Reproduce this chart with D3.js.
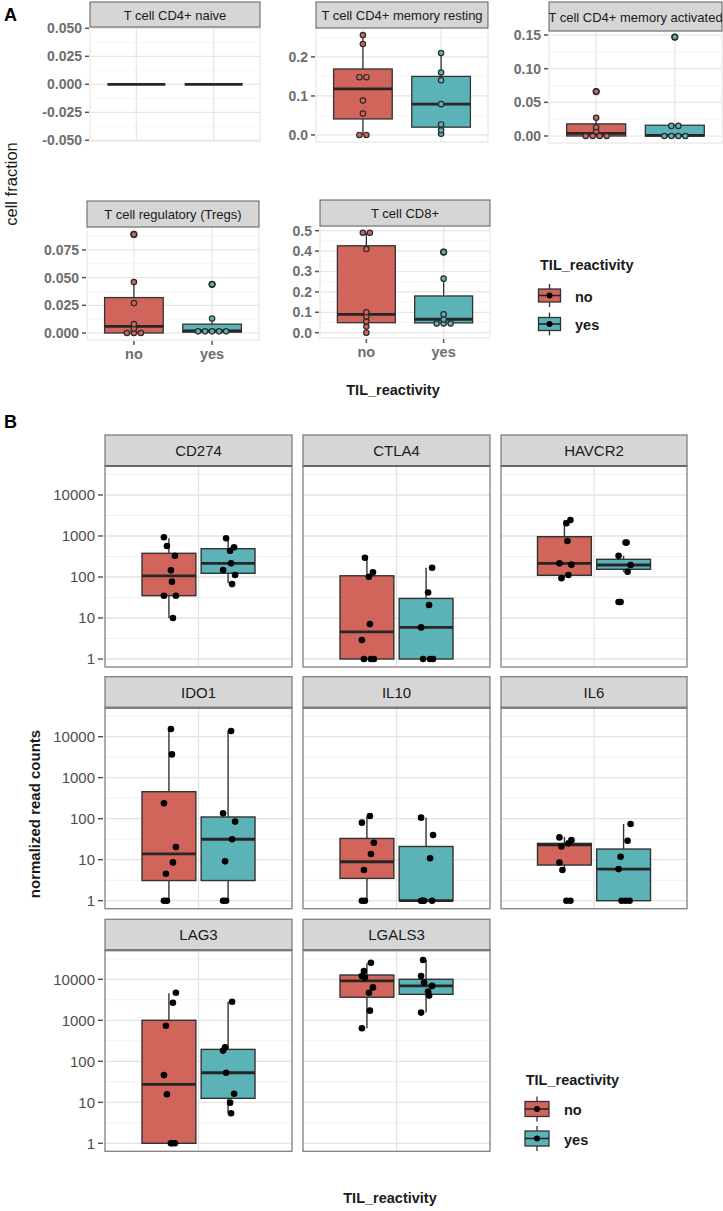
<!DOCTYPE html>
<html><head><meta charset="utf-8">
<script src="https://cdn.jsdelivr.net/npm/d3@7"></script>
<style>body{margin:0;background:#fff;} svg{display:block;}</style>
</head><body><svg id="c" width="723" height="1211"></svg>
<script>
// ---------------- DATA ----------------
const groups = ["no", "yes"];
const groupColors = ["#d2655b", "#5bb3b8"];

// Panel A : cell fractions
const cellTypes = ["T cell CD4+ naive", "T cell CD4+ memory resting", "T cell CD4+ memory activated", "T cell regulatory (Tregs)", "T cell CD8+"];
const cellTicks = [[-0.05, -0.025, 0, 0.025, 0.05], [0, 0.1, 0.2], [0, 0.05, 0.1, 0.15], [0, 0.025, 0.05, 0.075], [0, 0.1, 0.2, 0.3, 0.4, 0.5]];
const cellTickLabels = [["-0.050", "-0.025", "0.000", "0.025", "0.050"], ["0.0", "0.1", "0.2"], ["0.00", "0.05", "0.10", "0.15"], ["0.000", "0.025", "0.050", "0.075"], ["0.0", "0.1", "0.2", "0.3", "0.4", "0.5"]];
// [lower whisker, Q1, median, Q3, upper whisker]
const cellNoStats = [[0, 0, 0, 0, 0], [0, 0.041, 0.118, 0.169, 0.256], [0, 0, 0.004, 0.018, 0.027], [0, 0, 0.006, 0.032, 0.046], [0, 0.049, 0.09, 0.426, 0.49]];
const cellYesStats = [[0, 0, 0, 0, 0], [0.003, 0.02, 0.079, 0.15, 0.21], [0, 0, 0.0008, 0.016, 0.016], [0.0005, 0.0008, 0.002, 0.008, 0.013], [0.04, 0.048, 0.066, 0.18, 0.265]];
const cellNoOutliers = [[], [], [0.066], [0.089], []];
const cellYesOutliers = [[], [], [0.147], [0.044], [0.395]];
const cellNoPoints = [[], [0, 0, 0.055, 0.088, 0.148, 0.148, 0.233, 0.256], [0, 0, 0, 0, 0.007, 0.013, 0.027, 0.066], [0, 0, 0, 0.004, 0.008, 0.027, 0.046, 0.089], [0, 0.03, 0.055, 0.08, 0.1, 0.41, 0.49, 0.49]];
const cellYesPoints = [[], [0.003, 0.012, 0.027, 0.079, 0.14, 0.16, 0.21], [0, 0, 0, 0, 0.015, 0.015, 0.147], [0.0005, 0.001, 0.001, 0.002, 0.003, 0.013, 0.044], [0.04, 0.045, 0.05, 0.065, 0.09, 0.265, 0.395]];

// Panel B : normalized read counts
const genes = ["CD274", "CTLA4", "HAVCR2", "IDO1", "IL10", "IL6", "LAG3", "LGALS3"];
const geneTicks = [1, 10, 100, 1000, 10000];
const geneTickLabels = ["1", "10", "100", "1000", "10000"];
const geneNoStats = [
  [10, 35, 107, 378, 877],
  [1, 1, 4.6, 107, 295],
  [93, 110, 215, 960, 2450],
  [1, 3.1, 13.8, 455, 15100],
  [1, 3.5, 8.9, 33, 112],
  [5.6, 7.4, 23, 25, 36],
  [1, 1, 27.5, 1000, 4560],
  [640, 3650, 9100, 12700, 24500]
];
const geneYesStats = [
  [70, 123, 215, 490, 880],
  [1, 1, 5.9, 30, 168],
  [134, 154, 196, 270, 330],
  [1, 3.1, 31.5, 110, 13700],
  [1, 1, 1, 21, 106],
  [1, 1, 5.9, 18.2, 74],
  [5.4, 12.5, 52.5, 195, 2840],
  [1540, 4300, 6900, 10000, 29500]
];
const geneNoPoints = [
  [930, 570, 330, 145, 77, 35, 35, 10],
  [295, 130, 101, 7.1, 2.9, 1, 1, 1],
  [2450, 2040, 755, 215, 200, 112, 93],
  [15400, 3700, 238, 20.4, 8.6, 4.55, 1, 1],
  [116, 80, 26, 13.8, 5.6, 1, 1],
  [35, 30, 25, 21, 8.5, 5.6, 1, 1],
  [4700, 2680, 735, 46, 15.7, 1, 1, 1],
  [25300, 15900, 12000, 11000, 6340, 4700, 1720, 640]
];
const geneYesPoints = [
  [880, 530, 437, 215, 148, 112, 67],
  [168, 42, 20.7, 5.9, 1, 1, 1],
  [690, 690, 330, 196, 134, 24.6, 24.6],
  [13700, 135, 85, 31.5, 9.1, 1, 1],
  [106, 40, 10.8, 1, 1, 1, 1],
  [74, 29, 11.8, 5.9, 1, 1, 1],
  [2840, 218, 182, 52.5, 16.2, 9.8, 5.4],
  [29500, 12000, 8300, 6900, 5000, 4000, 1540]
];

// ---------------- LAYOUT ----------------
const FONT = "'Liberation Sans', Arial, Helvetica, sans-serif";
const svg = d3.select("#c").style("font-family", FONT);
const color = d3.scaleOrdinal().domain(groups).range(groupColors);

const aLayout = [
  {x0: 90, x1: 260, st: 2, pt: 27, pb: 141, d: [-0.0506, 0.0512]},
  {x0: 316, x1: 488, st: 2, pt: 28, pb: 142, d: [-0.018, 0.274]},
  {x0: 549, x1: 722, st: 2, pt: 31, pb: 143, d: [-0.0104, 0.156]},
  {x0: 87, x1: 259, st: 201, pt: 227, pb: 340, d: [-0.0063, 0.0957]},
  {x0: 320, x1: 490, st: 200, pt: 226, pb: 338, d: [-0.026, 0.523]}
];

function dotGroups(vals, y) {
  const sorted = vals.slice().sort((a, b) => a - b);
  const out = []; let cur = null;
  sorted.forEach(v => {
    const py = y(v);
    if (cur && Math.abs(py - cur.y0) < 3.5) cur.items.push(py);
    else { cur = {y0: py, items: [py]}; out.push(cur); }
  });
  return out;
}

function aPanel(i) {
  const L = aLayout[i];
  const y = d3.scaleLinear().domain(L.d).range([L.pb, L.pt]);
  const x = d3.scalePoint().domain(groups).range([L.x0, L.x1]).padding(0.6);
  const hw = x.step() * 0.375;
  const g = svg.append("g");
  g.append("rect").attr("x", L.x0).attr("y", L.pt).attr("width", L.x1 - L.x0).attr("height", L.pb - L.pt)
    .attr("fill", "#fff").attr("stroke", "#e2e2e2").attr("stroke-width", 1);
  const ticks = cellTicks[i];
  const step = ticks[1] - ticks[0];
  const minors = d3.range(-1, ticks.length).map(k => ticks[0] + step * (k + 0.5)).filter(v => v > L.d[0] && v < L.d[1]);
  g.selectAll(".mn").data(minors).join("line").attr("x1", L.x0).attr("x2", L.x1)
    .attr("y1", d => y(d)).attr("y2", d => y(d)).attr("stroke", "#f2f2f2").attr("stroke-width", 0.8);
  g.selectAll(".mj").data(ticks).join("line").attr("x1", L.x0).attr("x2", L.x1)
    .attr("y1", d => y(d)).attr("y2", d => y(d)).attr("stroke", "#e6e6e6").attr("stroke-width", 1.2);
  g.selectAll(".vx").data(groups).join("line").attr("x1", d => x(d)).attr("x2", d => x(d))
    .attr("y1", L.pt).attr("y2", L.pb).attr("stroke", "#e6e6e6").attr("stroke-width", 1.2);
  // strip
  const cid = "clipA" + i;
  svg.append("clipPath").attr("id", cid).append("rect").attr("x", L.x0).attr("y", L.st).attr("width", L.x1 - L.x0).attr("height", L.pt - L.st);
  g.append("rect").attr("x", L.x0).attr("y", L.st).attr("width", L.x1 - L.x0).attr("height", L.pt - L.st)
    .attr("fill", "#d6d6d6").attr("stroke", "#5e5e5e").attr("stroke-width", 1);
  g.append("text").attr("clip-path", `url(#${cid})`).attr("x", (L.x0 + L.x1) / 2).attr("y", (L.st + L.pt) / 2 + 0.5)
    .attr("text-anchor", "middle").attr("dominant-baseline", "central").attr("font-size", 13).attr("fill", "#1a1a1a")
    .text(cellTypes[i]);
  // y axis
  g.selectAll(".yt").data(ticks).join("line").attr("x1", L.x0 - 5).attr("x2", L.x0 - 1)
    .attr("y1", d => y(d)).attr("y2", d => y(d)).attr("stroke", "#555").attr("stroke-width", 1.5);
  g.selectAll(".yl").data(ticks).join("text").attr("x", L.x0 - 8).attr("y", d => y(d))
    .attr("text-anchor", "end").attr("dominant-baseline", "central").attr("font-size", 14).attr("font-weight", "bold")
    .attr("fill", "#6e6e6e").text((d, k) => cellTickLabels[i][k]);
  if (i >= 3) {
    g.selectAll(".xt").data(groups).join("line").attr("x1", d => x(d)).attr("x2", d => x(d))
      .attr("y1", L.pb + 1).attr("y2", L.pb + 5).attr("stroke", "#555").attr("stroke-width", 1.5);
    g.selectAll(".xl").data(groups).join("text").attr("x", d => x(d)).attr("y", L.pb + 14)
      .attr("text-anchor", "middle").attr("dominant-baseline", "central").attr("font-size", 14.5).attr("font-weight", "bold")
      .attr("fill", "#6e6e6e").text(d => d);
  }
  // boxes
  const statsArr = [cellNoStats[i], cellYesStats[i]];
  const outArr = [cellNoOutliers[i], cellYesOutliers[i]];
  const ptsArr = [cellNoPoints[i], cellYesPoints[i]];
  groups.forEach((gr, k) => {
    const s = statsArr[k], cx = x(gr);
    g.append("line").attr("x1", cx).attr("x2", cx).attr("y1", y(s[0])).attr("y2", y(s[1])).attr("stroke", "#333").attr("stroke-width", 1.3);
    g.append("line").attr("x1", cx).attr("x2", cx).attr("y1", y(s[3])).attr("y2", y(s[4])).attr("stroke", "#333").attr("stroke-width", 1.3);
    g.append("rect").attr("x", cx - hw).attr("y", y(s[3])).attr("width", hw * 2).attr("height", Math.max(0, y(s[1]) - y(s[3])))
      .attr("fill", color(gr)).attr("stroke", "#333").attr("stroke-width", 1.3);
    g.append("line").attr("x1", cx - hw).attr("x2", cx + hw).attr("y1", y(s[2])).attr("y2", y(s[2])).attr("stroke", "#262626").attr("stroke-width", 2.8);
    g.selectAll(null).data(outArr[k]).join("circle").attr("cx", cx).attr("cy", d => y(d)).attr("r", 3.6).attr("fill", "#222");
    dotGroups(ptsArr[k], y).forEach(grp => {
      const n = grp.items.length, py = d3.mean(grp.items);
      grp.items.forEach((_, j) => {
        g.append("circle").attr("cx", cx + (j - (n - 1) / 2) * 7).attr("cy", py).attr("r", 2.7)
          .attr("fill", color(gr)).attr("stroke", "#2a2a2a").attr("stroke-width", 1.2);
      });
    });
  });
}
cellTypes.forEach((_, i) => aPanel(i));

// A labels
svg.append("text").attr("x", 4).attr("y", 21).attr("font-size", 18).attr("font-weight", "bold").attr("fill", "#000").text("A");
svg.append("text").attr("transform", "translate(11,184) rotate(-90)").attr("text-anchor", "middle").attr("dominant-baseline", "central")
  .attr("font-size", 16.5).attr("fill", "#1a1a1a").text("cell fraction");
svg.append("text").attr("x", 393).attr("y", 390).attr("text-anchor", "middle").attr("dominant-baseline", "central")
  .attr("font-size", 14.5).attr("font-weight", "bold").attr("fill", "#1a1a1a").text("TIL_reactivity");

function legend(tx, ty, kx, kys, lx, bw, bh, wl, fs) {
  svg.append("text").attr("x", tx).attr("y", ty).attr("dominant-baseline", "central").attr("font-size", fs)
    .attr("font-weight", "bold").attr("fill", "#1a1a1a").text("TIL_reactivity");
  groups.forEach((gr, k) => {
    const cy = kys[k];
    svg.append("line").attr("x1", kx).attr("x2", kx).attr("y1", cy - bh / 2 - wl).attr("y2", cy + bh / 2 + wl).attr("stroke", "#333").attr("stroke-width", 1.3);
    svg.append("rect").attr("x", kx - bw / 2).attr("y", cy - bh / 2).attr("width", bw).attr("height", bh)
      .attr("fill", color(gr)).attr("stroke", "#333").attr("stroke-width", 1.3);
    svg.append("line").attr("x1", kx - bw / 2).attr("x2", kx + bw / 2).attr("y1", cy).attr("y2", cy).attr("stroke", "#262626").attr("stroke-width", 1.6);
    svg.append("circle").attr("cx", kx).attr("cy", cy).attr("r", 3).attr("fill", "#000");
    svg.append("text").attr("x", lx).attr("y", cy + 1).attr("dominant-baseline", "central").attr("font-size", fs)
      .attr("font-weight", "bold").attr("fill", "#1a1a1a").text(gr);
  });
}
legend(540, 265, 549.5, [295.5, 324], 575, 22, 13, 5, 14.5);

// ---------------- PANEL B ----------------
const bCols = [[105, 292], [303, 490], [501, 687]];
const bBase = [659, 900.7, 1143.3];
const jitterPx = [-5, -2, 6, 2, 3, -5, 7, 4, -3];

svg.append("text").attr("x", 4).attr("y", 428).attr("font-size", 18).attr("font-weight", "bold").attr("fill", "#000").text("B");

genes.forEach((gene, i) => {
  const r = Math.floor(i / 3), c = i % 3;
  const [x0, x1] = bCols[c];
  const base = bBase[r];
  const pt = base - 193, pb = base + 8, st = pt - 31;
  const y = d3.scaleLog().domain([0.638, 50900]).range([pb, pt]);
  const cx0 = (x0 + x1) / 2;
  const x = d3.scaleBand().domain(groups).range([cx0 - 56.5, cx0 + 56.5]).paddingInner(0.09);
  const g = svg.append("g");
  g.append("rect").attr("x", x0).attr("y", pt).attr("width", x1 - x0).attr("height", pb - pt).attr("fill", "#fff");
  const minors = [3.162, 31.62, 316.2, 3162, 31623];
  g.selectAll(".mn").data(minors).join("line").attr("x1", x0).attr("x2", x1).attr("y1", d => y(d)).attr("y2", d => y(d))
    .attr("stroke", "#f0f0f0").attr("stroke-width", 1);
  g.selectAll(".mj").data(geneTicks).join("line").attr("x1", x0).attr("x2", x1).attr("y1", d => y(d)).attr("y2", d => y(d))
    .attr("stroke", "#e3e3e3").attr("stroke-width", 1.3);
  g.append("line").attr("x1", cx0).attr("x2", cx0).attr("y1", pt).attr("y2", pb).attr("stroke", "#e3e3e3").attr("stroke-width", 1.3);
  // strip
  g.append("rect").attr("x", x0).attr("y", st).attr("width", x1 - x0).attr("height", pt - st)
    .attr("fill", "#d6d6d6").attr("stroke", "#7f7f7f").attr("stroke-width", 1.3);
  g.append("line").attr("x1", x0).attr("x2", x1).attr("y1", pt).attr("y2", pt).attr("stroke", "#3a3a3a").attr("stroke-width", 1.8);
  g.append("text").attr("x", (x0 + x1) / 2).attr("y", (st + pt) / 2).attr("text-anchor", "middle").attr("dominant-baseline", "central")
    .attr("font-size", 15).attr("fill", "#1a1a1a").text(gene);
  if (c === 0) {
    g.selectAll(".yt").data(geneTicks).join("line").attr("x1", x0 - 7).attr("x2", x0 - 2).attr("y1", d => y(d)).attr("y2", d => y(d))
      .attr("stroke", "#444").attr("stroke-width", 1.3);
    g.selectAll(".yl").data(geneTicks).join("text").attr("x", x0 - 10).attr("y", d => y(d)).attr("text-anchor", "end")
      .attr("dominant-baseline", "central").attr("font-size", 15).attr("fill", "#4d4d4d").text((d, k) => geneTickLabels[k]);
  }
  const statsArr = [geneNoStats[i], geneYesStats[i]];
  const ptsArr = [geneNoPoints[i], geneYesPoints[i]];
  groups.forEach((gr, k) => {
    const s = statsArr[k];
    const bx = x(gr), bw = x.bandwidth(), cx = bx + bw / 2;
    g.append("line").attr("x1", cx).attr("x2", cx).attr("y1", y(s[0])).attr("y2", y(s[1])).attr("stroke", "#333").attr("stroke-width", 1.4);
    g.append("line").attr("x1", cx).attr("x2", cx).attr("y1", y(s[3])).attr("y2", y(s[4])).attr("stroke", "#333").attr("stroke-width", 1.4);
    g.append("rect").attr("x", bx).attr("y", y(s[3])).attr("width", bw).attr("height", Math.max(0, y(s[1]) - y(s[3])))
      .attr("fill", color(gr)).attr("stroke", "#333").attr("stroke-width", 1.4);
    g.append("line").attr("x1", bx).attr("x2", bx + bw).attr("y1", y(s[2])).attr("y2", y(s[2])).attr("stroke", "#262626").attr("stroke-width", 2.8);
    g.selectAll(null).data(ptsArr[k]).join("circle").attr("cx", (d, j) => cx + jitterPx[(j + i + k) % jitterPx.length])
      .attr("cy", d => y(d)).attr("r", 3.3).attr("fill", "#000");
  });
  g.append("rect").attr("x", x0).attr("y", pt).attr("width", x1 - x0).attr("height", pb - pt)
    .attr("fill", "none").attr("stroke", "#7f7f7f").attr("stroke-width", 1.3);
});

svg.append("text").attr("transform", "translate(34,814) rotate(-90)").attr("text-anchor", "middle").attr("dominant-baseline", "central")
  .attr("font-size", 15).attr("font-weight", "bold").attr("fill", "#1a1a1a").text("normalized read counts");
svg.append("text").attr("x", 390).attr("y", 1198).attr("text-anchor", "middle").attr("dominant-baseline", "central")
  .attr("font-size", 14.5).attr("font-weight", "bold").attr("fill", "#1a1a1a").text("TIL_reactivity");
legend(525.7, 1080, 537, [1109, 1138.5], 564, 24, 15, 5, 14.5);
</script></body></html>
